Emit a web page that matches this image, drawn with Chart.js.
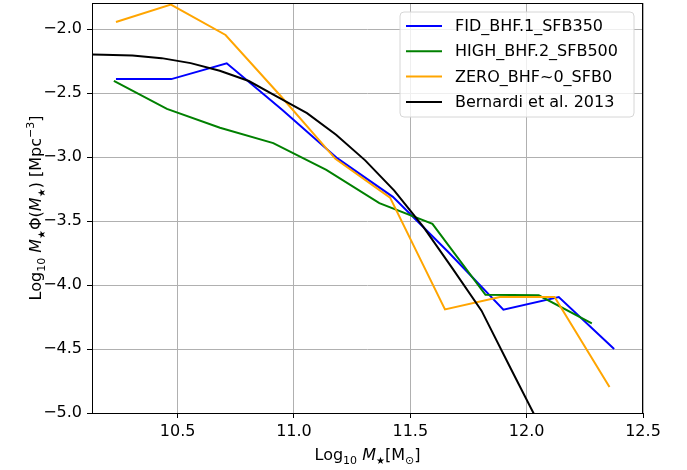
<!DOCTYPE html>
<html>
<head>
<meta charset="utf-8">
<script src="https://cdn.jsdelivr.net/npm/chart.js@4.4.0/dist/chart.umd.min.js"></script>
<style>
  html, body { margin: 0; padding: 0; background: #ffffff; }
  #wrap { width: 687px; height: 470px; }
</style>
</head>
<body>
<div id="wrap"><canvas id="smf" width="687" height="470"></canvas></div>
<script>
// Stellar mass function: simulation runs vs. Bernardi et al. 2013
const fidMass   = [10.235, 10.473, 10.711, 10.949, 11.187, 11.425, 11.662, 11.900, 12.138, 12.376];
const fidPhi    = [-2.39, -2.39, -2.266, -2.63, -3.01, -3.31, -3.74, -4.193, -4.094, -4.50];

const highMass  = [10.226, 10.454, 10.682, 10.911, 11.139, 11.367, 11.595, 11.823, 12.052, 12.280];
const highPhi   = [-2.404, -2.623, -2.77, -2.89, -3.10, -3.36, -3.521, -4.076, -4.08, -4.30];

const zeroMass  = [10.235, 10.471, 10.706, 10.942, 11.178, 11.413, 11.649, 11.885, 12.120, 12.356];
const zeroPhi   = [-1.943, -1.808, -2.045, -2.52, -3.013, -3.316, -4.19, -4.094, -4.094, -4.797];

const bernMass  = [10.056, 10.181, 10.306, 10.431, 10.556, 10.681, 10.806, 10.931, 11.056,
                   11.181, 11.306, 11.431, 11.556, 11.681, 11.806, 11.931, 12.056];
const bernPhi   = [-2.195, -2.200, -2.206, -2.226, -2.265, -2.325, -2.405, -2.53, -2.656,
                   -2.825, -3.025, -3.262, -3.545, -3.87, -4.20, -4.65, -5.096];

const seriesLabels = ['FID_BHF.1_SFB350', 'HIGH_BHF.2_SFB500', 'ZERO_BHF~0_SFB0', 'Bernardi et al. 2013'];
const seriesColors = ['#0000ff', '#008000', '#ffa500', '#000000'];

const xTickValues = [10.5, 11.0, 11.5, 12.0, 12.5];
const yTickValues = [-2.0, -2.5, -3.0, -3.5, -4.0, -4.5, -5.0];

const FONT = '"DejaVu Sans", sans-serif';

function pairs(xs, ys) {
  return xs.map((x, i) => ({ x: x, y: ys[i] }));
}

function lineSet(i, xs, ys) {
  return {
    label: seriesLabels[i],
    data: pairs(xs, ys),
    showLine: true,
    borderColor: seriesColors[i],
    backgroundColor: seriesColors[i],
    borderWidth: 2,
    pointRadius: 0,
    pointHoverRadius: 0,
    fill: false,
    tension: 0,
    order: 4 - i
  };
}

// rich text: segments with their own size / style / vertical offset
function segFont(s) {
  return (s.italic ? 'italic ' : '') + (s.size || 16) + 'px ' + FONT;
}
function drawRich(ctx, segs, cx, baseY) {
  let total = 0;
  segs.forEach(s => {
    ctx.font = segFont(s);
    s.w = ctx.measureText(s.t).width;
    total += s.w;
  });
  let x = cx - total / 2;
  ctx.textAlign = 'left';
  ctx.textBaseline = 'alphabetic';
  segs.forEach(s => {
    ctx.font = segFont(s);
    ctx.fillText(s.t, x, baseY + (s.dy || 0));
    x += s.w;
  });
}

const xTitle = [
  { t: 'Log' }, { t: '10', size: 11, dy: 4 }, { t: ' ' },
  { t: 'M', italic: true }, { t: '★', size: 10, dy: 4 },
  { t: '[M' }, { t: '⊙', size: 11, dy: 4 }, { t: ']' }
];
const yTitle = [
  { t: 'Log' }, { t: '10', size: 11, dy: 4 }, { t: ' ' },
  { t: 'M', italic: true }, { t: '★', size: 10, dy: 4 },
  { t: 'Φ(' }, { t: 'M', italic: true }, { t: '★', size: 10, dy: 4 },
  { t: ') [Mpc' }, { t: '−3', size: 11, dy: -7 }, { t: ']' }
];

const decorations = {
  id: 'decorations',
  afterDraw(chart) {
    const ctx = chart.ctx;
    const a = chart.chartArea;
    ctx.save();

    // axes frame
    ctx.strokeStyle = '#000000';
    ctx.lineWidth = 1;
    ctx.strokeRect(Math.round(a.left) + 0.5, Math.round(a.top) + 0.5,
                   Math.round(a.right - a.left) - 1, Math.round(a.bottom - a.top));

    // legend box
    const bx = 400, by = 12, bw = 234, bh = 105, r = 4;
    ctx.beginPath();
    ctx.moveTo(bx + r, by);
    ctx.arcTo(bx + bw, by, bx + bw, by + bh, r);
    ctx.arcTo(bx + bw, by + bh, bx, by + bh, r);
    ctx.arcTo(bx, by + bh, bx, by, r);
    ctx.arcTo(bx, by, bx + bw, by, r);
    ctx.closePath();
    ctx.fillStyle = 'rgba(255,255,255,0.8)';
    ctx.fill();
    ctx.strokeStyle = '#d6d6d6';
    ctx.lineWidth = 1;
    ctx.stroke();

    ctx.font = '16px ' + FONT;
    ctx.textAlign = 'left';
    ctx.textBaseline = 'middle';
    seriesLabels.forEach((lab, i) => {
      const yy = 26 + i * 25.3;
      ctx.strokeStyle = seriesColors[i];
      ctx.lineWidth = 2;
      ctx.beginPath();
      ctx.moveTo(406, yy);
      ctx.lineTo(442, yy);
      ctx.stroke();
      ctx.fillStyle = '#000000';
      ctx.fillText(lab, 455, yy + 1);
    });

    // axis titles
    ctx.fillStyle = '#000000';
    drawRich(ctx, xTitle, (a.left + a.right) / 2, 460);
    ctx.translate(41, (a.top + a.bottom) / 2);
    ctx.rotate(-Math.PI / 2);
    drawRich(ctx, yTitle, 0, 0);

    ctx.restore();
  }
};

new Chart(document.getElementById('smf'), {
  type: 'scatter',
  data: {
    datasets: [
      lineSet(0, fidMass, fidPhi),
      lineSet(1, highMass, highPhi),
      lineSet(2, zeroMass, zeroPhi),
      lineSet(3, bernMass, bernPhi)
    ]
  },
  options: {
    responsive: false,
    animation: false,
    devicePixelRatio: 1,
    layout: { padding: { top: 3, right: 44, left: 0, bottom: 0 } },
    plugins: {
      legend: { display: false },
      tooltip: { enabled: false }
    },
    events: [],
    scales: {
      x: {
        type: 'linear',
        min: 10.132,
        max: 12.5,
        afterBuildTicks: s => { s.ticks = xTickValues.map(v => ({ value: v })); },
        afterFit: s => { s.height = 57; s.paddingLeft = 0; s.paddingRight = 0; },
        grid: { color: '#b0b0b0', lineWidth: 1, tickColor: '#000000', tickLength: 5 },
        border: { display: false },
        ticks: {
          color: '#000000',
          font: { family: FONT, size: 16 },
          padding: 4,
          maxRotation: 0,
          autoSkip: false,
          callback: v => v.toFixed(1)
        }
      },
      y: {
        type: 'linear',
        min: -5.0,
        max: -1.795,
        afterBuildTicks: s => { s.ticks = yTickValues.map(v => ({ value: v })); },
        afterFit: s => { s.width = 92; s.paddingTop = 0; s.paddingBottom = 0; },
        grid: { color: '#b0b0b0', lineWidth: 1, tickColor: '#000000', tickLength: 5 },
        border: { display: false },
        ticks: {
          color: '#000000',
          font: { family: FONT, size: 16 },
          padding: 5,
          autoSkip: false,
          callback: v => (v < 0 ? '−' : '') + Math.abs(v).toFixed(1)
        }
      }
    }
  },
  plugins: [decorations]
});
</script>
</body>
</html>
